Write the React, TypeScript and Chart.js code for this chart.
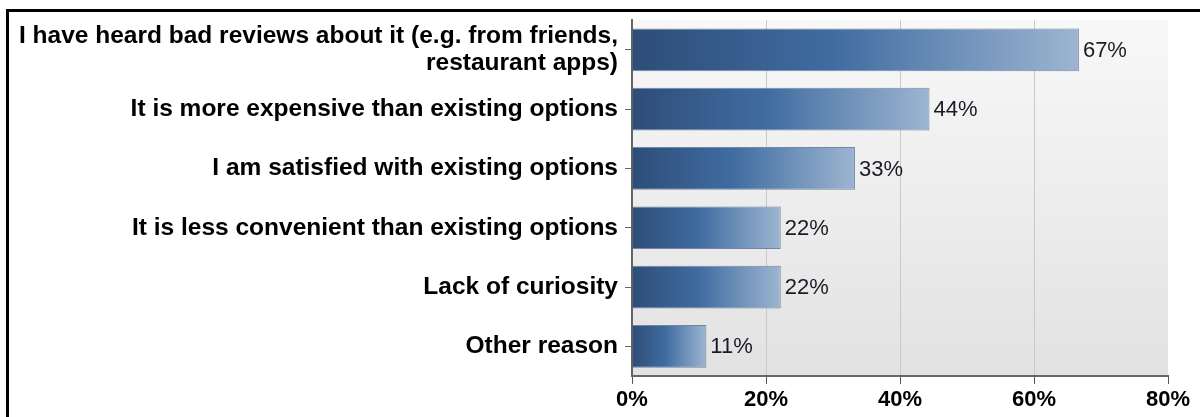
import React, { useEffect, useRef } from "react";
import { Chart, registerables } from "chart.js";

Chart.register(...registerables);

const categories: (string | string[])[] = [
  ["I have heard bad reviews about it (e.g. from friends,", "restaurant apps)"],
  "It is more expensive than existing options",
  "I am satisfied with existing options",
  "It is less convenient than existing options",
  "Lack of curiosity",
  "Other reason",
];
const values: number[] = [66.7, 44.4, 33.3, 22.2, 22.2, 11.1];
const valueLabels: string[] = ["67%", "44%", "33%", "22%", "22%", "11%"];
const xTicks: number[] = [0, 20, 40, 60, 80];

const FONT = "'Liberation Sans', Arial, sans-serif";

const plotBg = {
  id: "plotBg",
  beforeDraw(chart: any) {
    const { ctx, chartArea } = chart;
    if (!chartArea) return;
    const g = ctx.createLinearGradient(0, chartArea.top, 0, chartArea.bottom);
    g.addColorStop(0, "#f8f8f8");
    g.addColorStop(1, "#e2e2e2");
    ctx.save();
    ctx.fillStyle = g;
    ctx.fillRect(chartArea.left, chartArea.top, chartArea.right - chartArea.left, chartArea.bottom - chartArea.top);
    ctx.restore();
  },
};

const valueLabelPlugin = {
  id: "valueLabels",
  afterDatasetsDraw(chart: any) {
    const { ctx } = chart;
    const meta = chart.getDatasetMeta(0);
    ctx.save();
    ctx.font = `22px ${FONT}`;
    ctx.fillStyle = "#1a1a24";
    ctx.textAlign = "left";
    ctx.textBaseline = "middle";
    meta.data.forEach((el: any, i: number) => {
      ctx.fillText(valueLabels[i], el.x + 4, el.y + 1);
    });
    ctx.restore();
  },
};

export default function App() {
  const ref = useRef<HTMLCanvasElement>(null);
  useEffect(() => {
    if (!ref.current) return;
    const chart = new Chart(ref.current, {
      type: "bar",
      data: {
        labels: categories,
        datasets: [
          {
            data: values,
            backgroundColor: (c: any) => {
              const chart = c.chart;
              if (!chart.chartArea || c.type !== "data") return "#41699e";
              const xs = chart.scales.x;
              const x0 = xs.getPixelForValue(0);
              const x1 = xs.getPixelForValue(c.parsed ? c.parsed.x : values[c.dataIndex]);
              const g = chart.ctx.createLinearGradient(x0, 0, Math.max(x1, x0 + 1), 0);
              g.addColorStop(0, "#2e4d78");
              g.addColorStop(0.45, "#406ca1");
              g.addColorStop(1, "#9db5d1");
              return g;
            },
            borderColor: "rgba(75,100,135,0.75)",
            borderWidth: 1,
            borderSkipped: "start",
            barPercentage: 0.72,
            categoryPercentage: 1,
          },
        ],
      },
      options: {
        indexAxis: "y",
        responsive: false,
        animation: false,
        events: [],
        layout: { padding: { left: 0, right: 32, top: 17, bottom: 0 } },
        plugins: { legend: { display: false }, tooltip: { enabled: false } },
        scales: {
          x: {
            min: 0,
            max: 80,
            afterBuildTicks: (s: any) => {
              s.ticks = xTicks.map((v) => ({ value: v }));
            },
            afterFit: (s: any) => {
              s.height = 41;
            },
            grid: {
              color: (c: any) => (c.tick && (c.tick.value === 80 || c.tick.value === 0) ? "rgba(0,0,0,0)" : "#c9c9c9"),
              tickColor: "#555",
              tickLength: 8,
              lineWidth: 1,
            },
            border: { color: "#666", width: 2 },
            ticks: {
              color: "#000",
              padding: 3,
              font: { family: FONT, size: 22, weight: "bold" },
              callback: (v: any) => `${v}%`,
            },
          },
          y: {
            afterFit: (s: any) => {
              s.width = 632;
            },
            grid: {
              drawOnChartArea: false,
              offset: false,
              color: "#666",
              tickLength: 7,
            },
            border: { color: "#666", width: 2 },
            ticks: {
              color: "#000",
              padding: 7,
              font: { family: FONT, size: 24.5, weight: "bold", lineHeight: 1.08 },
            },
          },
        },
      },
      plugins: [plotBg, valueLabelPlugin],
    } as any);
    return () => chart.destroy();
  }, []);

  return (
    <div style={{ position: "fixed", left: 0, top: 0, width: 1200, height: 417, overflow: "hidden", background: "#fff" }}>
      <canvas ref={ref} width={1200} height={417} style={{ position: "absolute", left: 0, top: 0, width: 1200, height: 417 }} />
      <div
        style={{
          position: "absolute",
          left: 6,
          top: 9,
          width: 1260,
          height: 460,
          border: "3px solid #000",
          boxSizing: "border-box",
          pointerEvents: "none",
        }}
      />
    </div>
  );
}
